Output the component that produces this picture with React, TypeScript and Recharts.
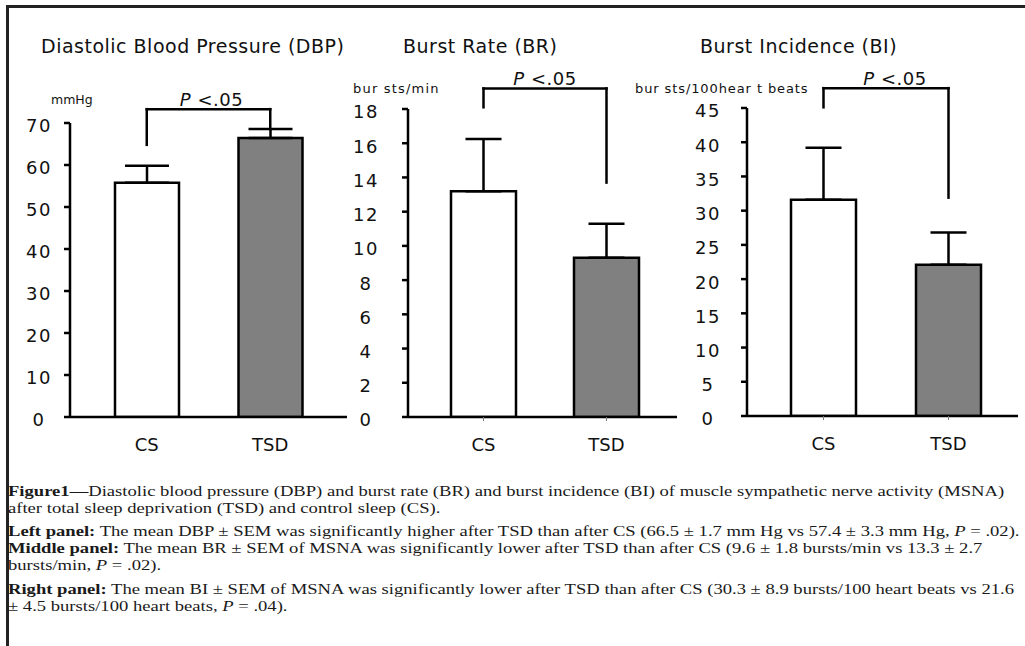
import React from 'react';
import { BarChart, Bar, XAxis, YAxis, ErrorBar, Cell, ReferenceLine } from 'recharts';

const categories = ['CS', 'TSD'];
const barFills = ['#ffffff', '#808080'];

const dbpMeans = [55.8, 66.4];
const dbpErrors = [4.0, 2.2];
const dbpTicks = [0, 10, 20, 30, 40, 50, 60, 70];
const dbpBracket = [64.8, 73.3, 68.6];

const brMeans = [13.2, 9.3];
const brErrors = [3.05, 2.0];
const brTicks = [0, 2, 4, 6, 8, 10, 12, 14, 16, 18];
const brBracket = [18.1, 19.2, 13.7];

const biMeans = [31.6, 22.1];
const biErrors = [7.6, 4.7];
const biTicks = [0, 5, 10, 15, 20, 25, 30, 35, 40, 45];
const biBracket = [45.1, 47.9, 31.9];

const titles = ['Diastolic Blood Pressure (DBP)', 'Burst Rate (BR)', 'Burst Incidence (BI)'];
const unitLabels = ['mmHg', 'bur sts/min', 'bur sts/100hear t beats'];
const sigLabel = '<.05';

const CHART_FONT = '"DejaVu Sans", Verdana, sans-serif';
const INK = '#111';
const SW = 2.5;

function PLabel(props: any) {
  const vb = props.viewBox || { x: 0, y: 0, width: 0, height: 0 };
  return (
    <text
      x={vb.x + vb.width / 2 + (props.shift || 0)}
      y={vb.y - 3}
      textAnchor="middle"
      fontSize={18}
      fontFamily={CHART_FONT}
      fill={INK}
      letterSpacing={0.5}
    >
      <tspan fontStyle="italic">P</tspan>
      {'\u00a0' + sigLabel}
    </text>
  );
}

type PanelProps = {
  axisX: number;
  plotRight: number;
  yTop: number;
  yBottom: number;
  means: number[];
  errors: number[];
  ticks: number[];
  bracket: number[];
  padL: number;
  padR: number;
  barSize: number;
  capHalf: number;
  tickMargin: number;
  xTickLine: boolean;
  labelShift: number;
};

function Panel(p: PanelProps) {
  const Y_W = 70;
  const H = 470;
  const XH = 40;
  const MR = 4;
  const data = categories.map((c, i) => ({ name: c, value: p.means[i], err: [0, p.errors[i]] }));
  const width = Y_W + (p.plotRight - p.axisX) + MR;
  const lineProps = { stroke: '#000', strokeWidth: SW, ifOverflow: 'visible' as const, strokeLinecap: 'square' as const };
  return (
    <div style={{ position: 'absolute', left: p.axisX - Y_W, top: 0 }}>
      <BarChart
        width={width}
        height={H}
        data={data}
        margin={{ top: p.yTop, right: MR, bottom: H - XH - p.yBottom, left: 0 }}
      >
        <XAxis
          dataKey="name"
          type="category"
          height={XH}
          padding={{ left: p.padL, right: p.padR }}
          axisLine={{ stroke: '#000', strokeWidth: SW }}
          tickLine={p.xTickLine ? { stroke: '#777', strokeWidth: 1 } : false}
          tickSize={4}
          tickMargin={17}
          tick={{ fontSize: 18, fill: INK, fontFamily: CHART_FONT }}
        />
        <YAxis
          type="number"
          domain={[p.ticks[0], p.ticks[p.ticks.length - 1]]}
          ticks={p.ticks}
          interval={0}
          allowDataOverflow
          width={Y_W}
          axisLine={{ stroke: '#000', strokeWidth: SW }}
          tickLine={{ stroke: '#000', strokeWidth: SW }}
          tickSize={6}
          tickMargin={p.tickMargin}
          tick={{ fontSize: 18, fill: INK, fontFamily: CHART_FONT, dy: 3, textAnchor: 'middle', letterSpacing: 1.5 }}
        />
        <Bar dataKey="value" barSize={p.barSize} stroke="#000" strokeWidth={SW} isAnimationActive={false}>
          {data.map((d, i) => (
            <Cell key={d.name} fill={barFills[i]} />
          ))}
          <ErrorBar
            dataKey="err"
            width={p.capHalf}
            stroke="#000"
            strokeWidth={SW}
            direction="y"
            isAnimationActive={false}
          />
        </Bar>
        <ReferenceLine
          {...lineProps}
          segment={[
            { x: categories[0], y: p.bracket[0] },
            { x: categories[0], y: p.bracket[1] },
          ]}
        />
        <ReferenceLine
          {...lineProps}
          segment={[
            { x: categories[0], y: p.bracket[1] },
            { x: categories[1], y: p.bracket[1] },
          ]}
          label={<PLabel shift={p.labelShift} />}
        />
        <ReferenceLine
          {...lineProps}
          segment={[
            { x: categories[1], y: p.bracket[1] },
            { x: categories[1], y: p.bracket[2] },
          ]}
        />
      </BarChart>
    </div>
  );
}

const captionFont = '"Liberation Serif", "Times New Roman", serif';

function Line({ top, children }: { top: number; children: React.ReactNode }) {
  return (
    <div
      style={{
        position: 'absolute',
        left: 8,
        top,
        whiteSpace: 'nowrap',
        fontFamily: captionFont,
        fontSize: 15.5,
        lineHeight: '17px',
        color: '#1a1a1a',
        transform: 'scaleX(1.2)',
        transformOrigin: '0 0',
      }}
    >
      {children}
    </div>
  );
}

export default function App() {
  return (
    <div
      style={{
        position: 'absolute',
        left: 0,
        top: 0,
        width: 1025,
        height: 646,
        overflow: 'hidden',
        background: '#fff',
      }}
    >
      <div
        style={{
          position: 'absolute',
          left: 6,
          top: 5,
          width: 1100,
          height: 700,
          borderLeft: '3px solid #222',
          borderTop: '3px solid #222',
        }}
      />
      <Panel
        axisX={70}
        plotRight={347}
        yTop={123}
        yBottom={417}
        means={dbpMeans}
        errors={dbpErrors}
        ticks={dbpTicks}
        bracket={dbpBracket}
        padL={15}
        padR={15}
        barSize={64}
        capHalf={22}
        tickMargin={25}
        xTickLine={false}
        labelShift={3}
      />
      <Panel
        axisX={408}
        plotRight={677}
        yTop={109}
        yBottom={417}
        means={brMeans}
        errors={brErrors}
        ticks={brTicks}
        bracket={brBracket}
        padL={14}
        padR={9}
        barSize={65}
        capHalf={18}
        tickMargin={36}
        xTickLine={true}
        labelShift={0}
      />
      <Panel
        axisX={747}
        plotRight={1018}
        yTop={108}
        yBottom={416}
        means={biMeans}
        errors={biErrors}
        ticks={biTicks}
        bracket={biBracket}
        padL={14}
        padR={7}
        barSize={65}
        capHalf={18}
        tickMargin={33}
        xTickLine={true}
        labelShift={9}
      />
      <svg
        width={1025}
        height={130}
        style={{ position: 'absolute', left: 0, top: 0, pointerEvents: 'none' }}
      >
        <g fontFamily={CHART_FONT} fill={INK}>
          <text x={41} y={53} fontSize={19} letterSpacing={0.5}>{titles[0]}</text>
          <text x={403} y={53} fontSize={19} letterSpacing={0.5}>{titles[1]}</text>
          <text x={700} y={53} fontSize={19} letterSpacing={0.5}>{titles[2]}</text>
          <text x={51} y={104} fontSize={12.5}>{unitLabels[0]}</text>
          <text x={353} y={93} fontSize={13} letterSpacing={1.2}>{unitLabels[1]}</text>
          <text x={635} y={93} fontSize={13} letterSpacing={0.9}>{unitLabels[2]}</text>
        </g>
      </svg>
      <Line top={482}>
        <b>Figure1—</b>Diastolic blood pressure (DBP) and burst rate (BR) and burst incidence (BI) of muscle sympathetic nerve activity (MSNA)
      </Line>
      <Line top={499}>after total sleep deprivation (TSD) and control sleep (CS).</Line>
      <Line top={522}>
        <b>Left panel:</b> The mean DBP ± SEM was significantly higher after TSD than after CS (66.5 ± 1.7 mm Hg vs 57.4 ± 3.3 mm Hg, <i>P</i> = .02).
      </Line>
      <Line top={539}>
        <b>Middle panel:</b> The mean BR ± SEM of MSNA was significantly lower after TSD than after CS (9.6 ± 1.8 bursts/min vs 13.3 ± 2.7
      </Line>
      <Line top={556}>
        bursts/min, <i>P</i> = .02).
      </Line>
      <Line top={580}>
        <b>Right panel:</b> The mean BI ± SEM of MSNA was significantly lower after TSD than after CS (30.3 ± 8.9 bursts/100 heart beats vs 21.6
      </Line>
      <Line top={597}>
        ± 4.5 bursts/100 heart beats, <i>P</i> = .04).
      </Line>
    </div>
  );
}
